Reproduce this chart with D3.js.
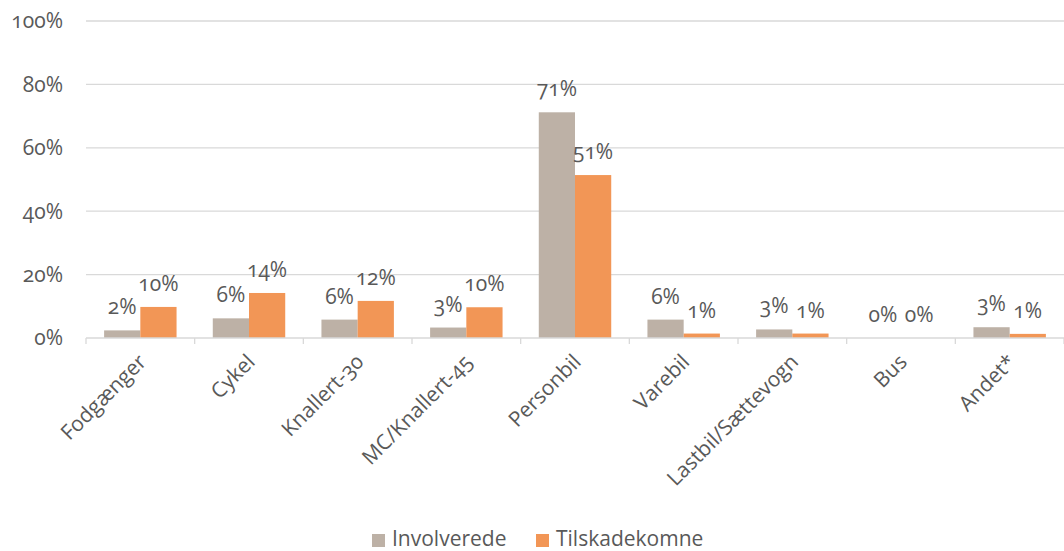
<!DOCTYPE html>
<html><head><meta charset="utf-8">
<script src="https://cdn.jsdelivr.net/npm/d3@7"></script>
<style>
body{margin:0;background:#fff;}
svg text{font-family:"Open Sans",sans-serif;fill:#595959;font-variant-numeric:oldstyle-nums;font-feature-settings:"onum" 1;}
</style></head><body>
<svg id="c" width="1064" height="551"></svg>
<script>
const categories = ["Fodgænger","Cykel","Knallert-30","MC/Knallert-45","Personbil","Varebil","Lastbil/Sættevogn","Bus","Andet*"];
const involverede = [0.024,0.062,0.058,0.033,0.712,0.058,0.027,0.0,0.034];
const tilskadekomne = [0.098,0.142,0.117,0.097,0.514,0.014,0.014,0.0,0.013];
const seriesNames = ["Involverede","Tilskadekomne"];
const colors = ["#BDB1A6","#F29656"];
const yTicks = [0,0.2,0.4,0.6,0.8,1.0];

const svg = d3.select("#c");
const x = d3.scaleBand().domain(categories).range([86,1064]).padding(0);
const y = d3.scaleLinear().domain([0,1]).range([338,21]);
const bw = x.bandwidth();
const barW = bw/3;
const fmt = d3.format(".0%");
const fs = 21;

svg.append("g").selectAll("line").data(yTicks.slice(1)).join("line")
  .attr("x1",86).attr("x2",1064).attr("y1",d=>y(d)).attr("y2",d=>y(d))
  .attr("stroke","#D9D9D9").attr("stroke-width",1.3);

svg.append("g").selectAll("text").data(yTicks).join("text")
  .attr("x",63).attr("y",d=>y(d)).attr("dy","0.35em").attr("text-anchor","end")
  .attr("font-size",fs).text(d=>fmt(d));

const data = [involverede,tilskadekomne];
data.forEach((vals,si)=>{
  svg.append("g").selectAll("rect").data(vals).join("rect")
    .attr("x",(d,i)=>x(categories[i])+bw/6+si*barW)
    .attr("width",barW)
    .attr("y",d=>y(d)).attr("height",d=>y(0)-y(d))
    .attr("fill",colors[si]);
  svg.append("g").selectAll("text").data(vals).join("text")
    .attr("x",(d,i)=>x(categories[i])+bw/6+si*barW+barW/2)
    .attr("y",d=>y(d)-16).attr("text-anchor","middle")
    .attr("font-size",fs).text(d=>fmt(d));
});

svg.append("line").attr("x1",86).attr("x2",1064).attr("y1",y(0)).attr("y2",y(0))
  .attr("stroke","#D9D9D9").attr("stroke-width",1.3);
const bounds = categories.map(c=>x(c)).concat([x(categories[categories.length-1])+bw]);
svg.append("g").selectAll("line").data(bounds).join("line")
  .attr("x1",d=>d).attr("x2",d=>d).attr("y1",y(0)).attr("y2",y(0)+6)
  .attr("stroke","#D9D9D9").attr("stroke-width",1.3);

svg.append("g").selectAll("text").data(categories).join("text")
  .attr("transform",d=>`translate(${x(d)+bw/2+2},${y(0)+20}) rotate(-45)`)
  .attr("text-anchor","end").attr("dy","0.35em")
  .attr("font-size",fs).text(d=>d);

const leg = svg.append("g");
const lx = [372,536];
seriesNames.forEach((n,i)=>{
  leg.append("rect").attr("x",lx[i]).attr("y",534).attr("width",13).attr("height",13).attr("fill",colors[i]);
  leg.append("text").attr("x",lx[i]+20).attr("y",539).attr("dy","0.35em").attr("font-size",fs).text(n);
});
</script>
</body></html>
